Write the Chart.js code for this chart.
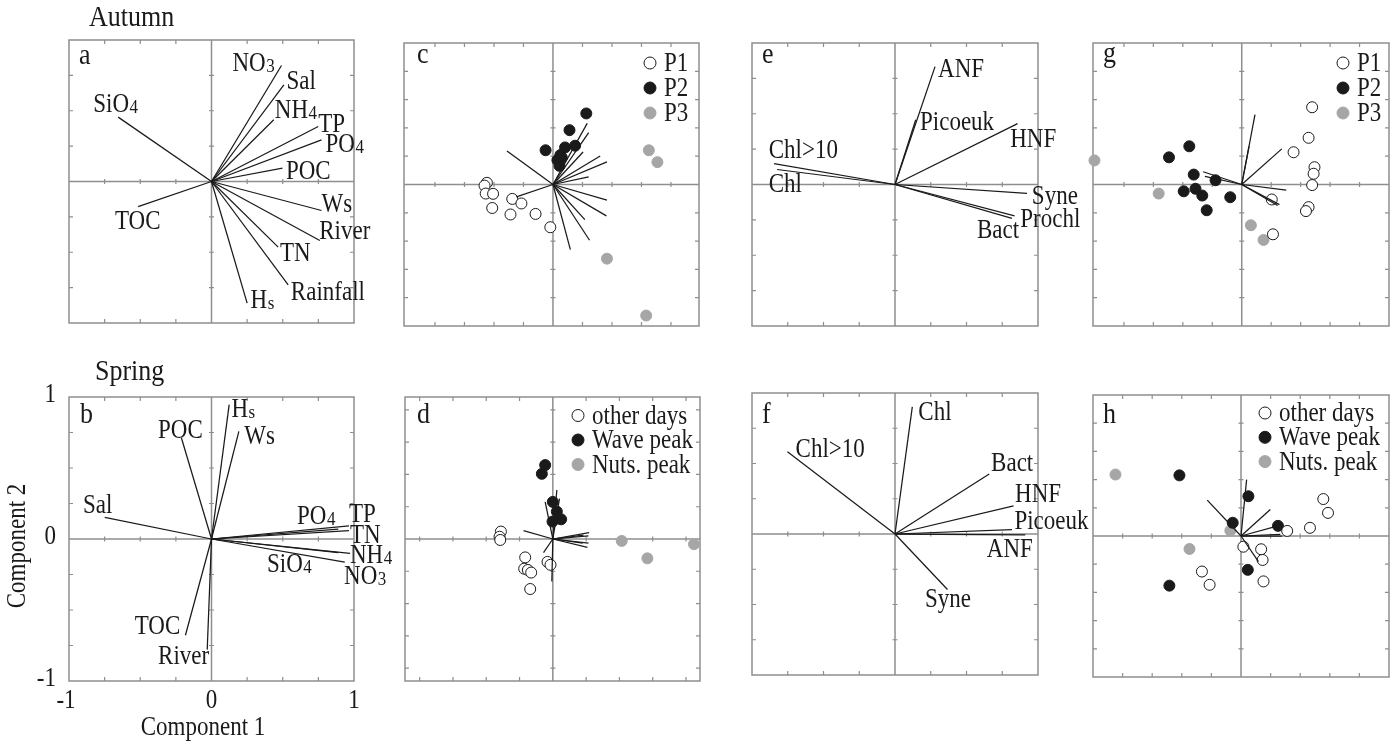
<!DOCTYPE html>
<html>
<head>
<meta charset="utf-8">
<script src="https://cdn.jsdelivr.net/npm/chart.js@4.4.1/dist/chart.umd.min.js"></script>
<style>
  html, body { margin: 0; padding: 0; background: #ffffff; }
  #wrap { position: relative; width: 1396px; height: 744px; background: #ffffff; overflow: hidden; }
  #wrap canvas { position: absolute; left: 0; top: 0; }
</style>
</head>
<body>
<div id="wrap">
  <canvas id="pa" width="1396" height="744"></canvas>
  <canvas id="pb" width="1396" height="744"></canvas>
  <canvas id="pc" width="1396" height="744"></canvas>
  <canvas id="pd" width="1396" height="744"></canvas>
  <canvas id="pe" width="1396" height="744"></canvas>
  <canvas id="pf" width="1396" height="744"></canvas>
  <canvas id="pg" width="1396" height="744"></canvas>
  <canvas id="ph" width="1396" height="744"></canvas>
</div>
<script>
// ---------------- DATA ----------------
// Panel a: Autumn, environmental loadings (Component 1, Component 2)
const aNames = ['NO_3','Sal','NH_4','TP','PO_4','POC','Ws','River','TN','Rainfall','H_s','SiO_4','TOC'];
const aVecX  = [0.491, 0.508, 0.437, 0.749, 0.772, 0.498, 0.772, 0.760, 0.468, 0.538, 0.250, -0.655, -0.515];
const aVecY  = [0.820, 0.683, 0.436, 0.389, 0.294, 0.094, -0.205, -0.417, -0.464, -0.730, -0.860, 0.455, -0.177];

// Panel b: Spring, environmental loadings
const bNames = ['H_s','Ws','POC','Sal','PO_4','TP','TN','NH_4','NO_3','SiO_4','TOC','River'];
const bVecX  = [0.124, 0.192, -0.211, -0.749, 0.890, 0.965, 0.965, 0.972, 0.935, 0.890, -0.183, -0.030];
const bVecY  = [0.946, 0.758, 0.711, 0.153, 0.070, 0.092, 0.059, -0.101, -0.163, -0.096, -0.678, -0.779];

// Panel c: Autumn environmental scores + loadings
const cVecX = [-1.56, -1.24, 1.16, 1.21, 1.02, 1.60, 1.83, 1.21, 1.83, 1.81, 1.08, 1.24, 0.59];
const cVecY = [1.18, -0.44, 2.16, 1.83, 1.15, 1.01, 0.80, 0.27, -0.55, -1.11, -1.24, -1.97, -2.30];
const cP1X = [-2.24, -2.32, -2.28, -2.03, -2.06, -1.38, -1.07, -1.44, -0.59, -0.09];
const cP1Y = [0.06, -0.04, -0.32, -0.33, -0.83, -0.51, -0.67, -1.06, -1.04, -1.51];
const cP2X = [1.13, 0.56, -0.25, 0.41, 0.75, 0.25, 0.15, 0.22, 0.30];
const cP2Y = [2.51, 1.92, 1.21, 1.31, 1.37, 1.04, 0.86, 0.66, 0.95];
const cP3X = [3.25, 3.54, 1.83, 3.16];
const cP3Y = [1.21, 0.79, -2.62, -4.63];

// Panel d: Spring environmental scores + loadings
const dVecX = [0.12, 0.20, -0.23, -0.88, 1.09, 1.07, 0.92, 1.07, 1.04, 0.90, -0.28, -0.03];
const dVecY = [1.52, 1.25, 1.15, 0.26, 0.20, 0.10, 0.12, -0.13, -0.26, -0.13, -0.42, -1.32];
const dOtherX = [-1.56, -1.60, -1.58, -0.83, -0.86, -0.75, -0.65, -0.68, -0.16, -0.07];
const dOtherY = [0.23, 0.07, -0.03, -0.57, -0.92, -0.96, -1.04, -1.55, -0.71, -0.80];
const dWaveX = [-0.23, -0.33, 0.00, 0.12, 0.25, -0.01];
const dWaveY = [2.29, 2.02, 1.15, 0.85, 0.61, 0.54];
const dNutsX = [2.07, 2.84, 4.24];
const dNutsY = [-0.06, -0.60, -0.16];

// Panel e: Autumn biological loadings
const eNames = ['ANF','Picoeuk','HNF','Chl>10','Chl','Syne','Prochl','Bact'];
const eVecX  = [0.280, 0.145, 0.857, -0.846, -0.825, 0.923, 0.836, 0.818];
const eVecY  = [0.833, 0.458, 0.430, 0.148, 0.106, -0.063, -0.222, -0.240];

// Panel f: Spring biological loadings
const fNames = ['Chl','Chl>10','Bact','HNF','Picoeuk','ANF','Syne'];
const fVecX  = [0.121, -0.752, 0.659, 0.829, 0.818, 0.911, 0.367];
const fVecY  = [0.901, 0.583, 0.425, 0.200, 0.031, -0.007, -0.394];

// Panel g: Autumn biological scores + loadings
const gVecX = [0.45, 0.25, 1.36, -1.31, -1.25, 1.51, 1.28, 1.22];
const gVecY = [2.47, 1.35, 1.26, 0.45, 0.29, -0.20, -0.71, -0.74];
const gP1X = [2.39, 2.27, 1.76, 2.47, 2.44, 2.39, 2.27, 2.18, 1.02, 1.06];
const gP1Y = [2.73, 1.65, 1.14, 0.61, 0.38, -0.02, -0.80, -0.94, -0.53, -1.76];
const gP2X = [-1.78, -2.47, -1.63, -0.89, -1.97, -1.57, -1.34, -1.19, -0.39];
const gP2Y = [1.35, 0.96, 0.35, 0.15, -0.24, -0.15, -0.39, -0.91, -0.45];
const gP3X = [-5.00, -2.82, 0.31, 0.74];
const gP3Y = [0.85, -0.32, -1.44, -1.96];

// Panel h: Spring biological scores + loadings
const hVecX = [0.19, -1.14, 0.99, 1.25, 1.33, 1.39, 0.59];
const hVecY = [2.00, 1.27, 0.94, 0.36, 0.06, 0.00, -0.91];
const hOtherX = [2.78, 2.94, 2.33, 1.56, 0.08, 0.68, 0.73, 0.76, -1.32, -1.06];
const hOtherY = [1.31, 0.82, 0.29, 0.18, -0.38, -0.47, -0.85, -1.61, -1.26, -1.73];
const hWaveX = [-2.08, 0.25, -0.28, 1.25, 0.23, -2.42];
const hWaveY = [2.15, 1.41, 0.47, 0.36, -1.20, -1.76];
const hNutsX = [-4.24, -1.74, -0.36];
const hNutsY = [2.18, -0.46, 0.19];

// Legend / tick texts
const autumnGroups = ['P1', 'P2', 'P3'];
const springGroups = ['other days', 'Wave peak', 'Nuts. peak'];
const bTickLabels = ['-1', '0', '1'];
const bTickValues = [-1, 0, 1];

// ---------------- LAYOUT (label anchors, in axis units) ----------------
const aTextX = [0.147, 0.526, 0.444, 0.749, 0.800, 0.522, 0.772, 0.756, 0.480, 0.557, 0.274, -0.830, -0.678];
const aTextY = [0.782, 0.653, 0.448, 0.353, 0.205, 0.019, -0.217, -0.408, -0.565, -0.836, -0.895, 0.488, -0.337];
const bTextX = [0.140, 0.230, -0.375, -0.902, 0.600, 0.965, 0.972, 0.972, 0.930, 0.390, -0.539, -0.375];
const bTextY = [0.859, 0.671, 0.708, 0.186, 0.106, 0.122, -0.030, -0.172, -0.320, -0.230, -0.666, -0.882];
const eTextX = [0.301, 0.175, 0.806, -0.883, -0.883, 0.957, 0.876, 0.573];
const eTextY = [0.761, 0.384, 0.264, 0.188, -0.052, -0.135, -0.300, -0.380];
const fTextX = [0.163, -0.695, 0.672, 0.840, 0.835, 0.642, 0.210];
const fTextY = [0.809, 0.548, 0.449, 0.224, 0.035, -0.166, -0.521];

// ---------------- STYLES ----------------
const FONT = '"Liberation Serif", "Times New Roman", Times, serif';
const GRID = '#8e8e8e';
const INK = '#1a1a1a';
const GREY = '#a6a6a6';
const W = 1396, H = 744;
const VSTRETCH = 1.15;

function textV(ctx, text, x, y) {
  ctx.save();
  ctx.translate(x, y);
  ctx.scale(1, VSTRETCH);
  ctx.fillText(text, 0, 0);
  ctx.restore();
}

function drawRich(ctx, text, x, y, size) {
  const parts = text.split('_');
  ctx.font = size + 'px ' + FONT;
  textV(ctx, parts[0], x, y);
  if (parts[1]) {
    const w = ctx.measureText(parts[0]).width;
    ctx.font = Math.round(size * 0.74) + 'px ' + FONT;
    textV(ctx, parts[1], x + w + 0.5, y + 1);
  }
}

function tickList(min, max, step) {
  const out = [];
  const lim = Math.min(Math.abs(min), Math.abs(max));
  for (let t = step; t < lim - 1e-6; t += step) { out.push(t, -t); }
  return out;
}

function decoPlugin(cfg) {
  return {
    id: 'deco_' + cfg.letter,
    beforeDatasetsDraw(chart) {
      const { ctx, chartArea: a, scales: { x, y } } = chart;
      const x0 = x.getPixelForValue(0), y0 = y.getPixelForValue(0);
      ctx.save();
      ctx.strokeStyle = GRID;
      ctx.lineWidth = 1.5;
      ctx.strokeRect(a.left, a.top, a.width, a.height);
      ctx.beginPath();
      ctx.moveTo(a.left, y0); ctx.lineTo(a.right, y0);
      ctx.moveTo(x0, a.top); ctx.lineTo(x0, a.bottom);
      ctx.stroke();
      ctx.lineWidth = 1.2;
      ctx.beginPath();
      tickList(cfg.xr[0], cfg.xr[1], cfg.xs).forEach(t => {
        const p = x.getPixelForValue(t);
        ctx.moveTo(p, a.top); ctx.lineTo(p, a.top + 4);
        ctx.moveTo(p, a.bottom); ctx.lineTo(p, a.bottom - 4);
        ctx.moveTo(p, y0 - 2.5); ctx.lineTo(p, y0 + 2.5);
      });
      tickList(cfg.yr[0], cfg.yr[1], cfg.ys).forEach(t => {
        const p = y.getPixelForValue(t);
        ctx.moveTo(a.left, p); ctx.lineTo(a.left + 4, p);
        ctx.moveTo(a.right, p); ctx.lineTo(a.right - 4, p);
        ctx.moveTo(x0 - 2.5, p); ctx.lineTo(x0 + 2.5, p);
      });
      ctx.stroke();
      ctx.restore();
    },
    afterDatasetsDraw(chart) {
      const { ctx, chartArea: a, scales: { x, y } } = chart;
      ctx.save();
      ctx.fillStyle = INK;
      ctx.textAlign = 'left';
      ctx.textBaseline = 'alphabetic';
      // panel letter
      ctx.font = '26px ' + FONT;
      textV(ctx, cfg.letter, cfg.letterPos[0], cfg.letterPos[1]);
      // heading
      if (cfg.heading) {
        ctx.font = '26px ' + FONT;
        textV(ctx, cfg.heading, cfg.headingPos[0], cfg.headingPos[1]);
      }
      // vector labels
      if (cfg.names) {
        cfg.names.forEach((n, i) => {
          drawRich(ctx, n, x.getPixelForValue(cfg.tx[i]), y.getPixelForValue(cfg.ty[i]), 23);
        });
      }
      // legend
      if (cfg.legend) {
        const L = cfg.legend;
        L.names.forEach((n, i) => {
          const g = cfg.groups[i];
          const cx = a.right - L.dx, cy = a.top + L.dy + i * L.gap;
          ctx.beginPath();
          ctx.arc(cx, cy, 6, 0, Math.PI * 2);
          ctx.fillStyle = g.fill; ctx.fill();
          ctx.lineWidth = 1; ctx.strokeStyle = g.stroke; ctx.stroke();
          ctx.fillStyle = INK;
          ctx.font = '23px ' + FONT;
          textV(ctx, n, cx + 14, cy + 8);
        });
      }
      // axes texts
      if (cfg.axisText) {
        ctx.font = '23px ' + FONT;
        ctx.textBaseline = 'middle';
        ctx.textAlign = 'right';
        bTickValues.forEach((v, i) => {
          textV(ctx, bTickLabels[i], a.left - 13, y.getPixelForValue(v) - 2);
        });
        ctx.textAlign = 'center';
        bTickValues.forEach((v, i) => {
          textV(ctx, bTickLabels[i], x.getPixelForValue(v) - (v < 0 ? 3 : 0), a.bottom + 20);
        });
        textV(ctx, 'Component 1', a.left + 134, a.bottom + 47);
        ctx.save();
        ctx.translate(18, (a.top + a.bottom) / 2 + 7);
        ctx.rotate(-Math.PI / 2);
        ctx.scale(1, VSTRETCH);
        ctx.fillText('Component 2', 0, 0);
        ctx.restore();
      }
      ctx.restore();
    }
  };
}

function makePanel(id, cfg) {
  const [L, T, R, B] = cfg.box;
  const datasets = [];
  (cfg.vx || []).forEach((vx, i) => {
    datasets.push({
      data: [{ x: 0, y: 0 }, { x: vx, y: cfg.vy[i] }],
      showLine: true, pointRadius: 0, borderColor: INK, borderWidth: 1.25,
      clip: false, fill: false
    });
  });
  (cfg.groups || []).forEach(g => {
    datasets.push({
      data: g.x.map((v, i) => ({ x: v, y: g.y[i] })),
      showLine: false, pointRadius: 5.5, pointBorderWidth: 1,
      pointBackgroundColor: g.fill, pointBorderColor: g.stroke,
      backgroundColor: g.fill, borderColor: g.stroke, clip: false
    });
  });
  new Chart(document.getElementById(id), {
    type: 'scatter',
    data: { datasets },
    options: {
      responsive: false, animation: false, devicePixelRatio: 1, events: [],
      layout: { padding: { left: L, top: T, right: W - R, bottom: H - B } },
      scales: {
        x: { type: 'linear', min: cfg.xr[0], max: cfg.xr[1], display: false },
        y: { type: 'linear', min: cfg.yr[0], max: cfg.yr[1], display: false }
      },
      plugins: { legend: { display: false }, tooltip: { enabled: false } }
    },
    plugins: [decoPlugin(cfg)]
  });
}

const openStyle = { fill: '#ffffff', stroke: INK };
const blackStyle = { fill: INK, stroke: INK };
const greyStyle = { fill: GREY, stroke: GREY };

makePanel('pa', { letter: 'a', letterPos: [79, 64], heading: 'Autumn', headingPos: [89, 26],
  box: [69, 40, 354, 323], xr: [-1, 1], yr: [-1, 1], xs: 0.25, ys: 0.25,
  vx: aVecX, vy: aVecY, names: aNames, tx: aTextX, ty: aTextY });

makePanel('pb', { letter: 'b', letterPos: [80, 423], heading: 'Spring', headingPos: [95, 380],
  box: [69, 397, 354, 681], xr: [-1, 1], yr: [-1, 1], xs: 0.25, ys: 0.25,
  vx: bVecX, vy: bVecY, names: bNames, tx: bTextX, ty: bTextY, axisText: true });

makePanel('pc', { letter: 'c', letterPos: [417, 63],
  box: [404, 43, 699, 326], xr: [-5.05, 4.95], yr: [-5, 5], xs: 1, ys: 1,
  vx: cVecX, vy: cVecY,
  groups: [Object.assign({ x: cP1X, y: cP1Y }, openStyle), Object.assign({ x: cP2X, y: cP2Y }, blackStyle), Object.assign({ x: cP3X, y: cP3Y }, greyStyle)],
  legend: { names: autumnGroups, dx: 49, dy: 20, gap: 25 } });

makePanel('pd', { letter: 'd', letterPos: [417, 423],
  box: [405, 397, 700, 681], xr: [-4.44, 4.42], yr: [-4.4, 4.4], xs: 1, ys: 1,
  vx: dVecX, vy: dVecY,
  groups: [Object.assign({ x: dOtherX, y: dOtherY }, openStyle), Object.assign({ x: dWaveX, y: dWaveY }, blackStyle), Object.assign({ x: dNutsX, y: dNutsY }, greyStyle)],
  legend: { names: springGroups, dx: 122, dy: 18.5, gap: 24.5 } });

makePanel('pe', { letter: 'e', letterPos: [762, 63],
  box: [752, 43, 1038, 326], xr: [-1, 1], yr: [-1, 1], xs: 0.25, ys: 0.25,
  vx: eVecX, vy: eVecY, names: eNames, tx: eTextX, ty: eTextY });

makePanel('pf', { letter: 'f', letterPos: [762, 423],
  box: [752, 393, 1038, 675], xr: [-1, 1], yr: [-1, 1], xs: 0.25, ys: 0.25,
  vx: fVecX, vy: fVecY, names: fNames, tx: fTextX, ty: fTextY });

makePanel('pg', { letter: 'g', letterPos: [1103, 62],
  box: [1093, 43, 1389, 326], xr: [-5.05, 5.0], yr: [-5, 5], xs: 1, ys: 1,
  vx: gVecX, vy: gVecY,
  groups: [Object.assign({ x: gP1X, y: gP1Y }, openStyle), Object.assign({ x: gP2X, y: gP2Y }, blackStyle), Object.assign({ x: gP3X, y: gP3Y }, greyStyle)],
  legend: { names: autumnGroups, dx: 46, dy: 20, gap: 25 } });

makePanel('ph', { letter: 'h', letterPos: [1103, 423],
  box: [1093, 395, 1389, 677], xr: [-5, 5], yr: [-5, 5], xs: 1, ys: 1,
  vx: hVecX, vy: hVecY,
  groups: [Object.assign({ x: hOtherX, y: hOtherY }, openStyle), Object.assign({ x: hWaveX, y: hWaveY }, blackStyle), Object.assign({ x: hNutsX, y: hNutsY }, greyStyle)],
  legend: { names: springGroups, dx: 124, dy: 18, gap: 24.3 } });
</script>
</body>
</html>
